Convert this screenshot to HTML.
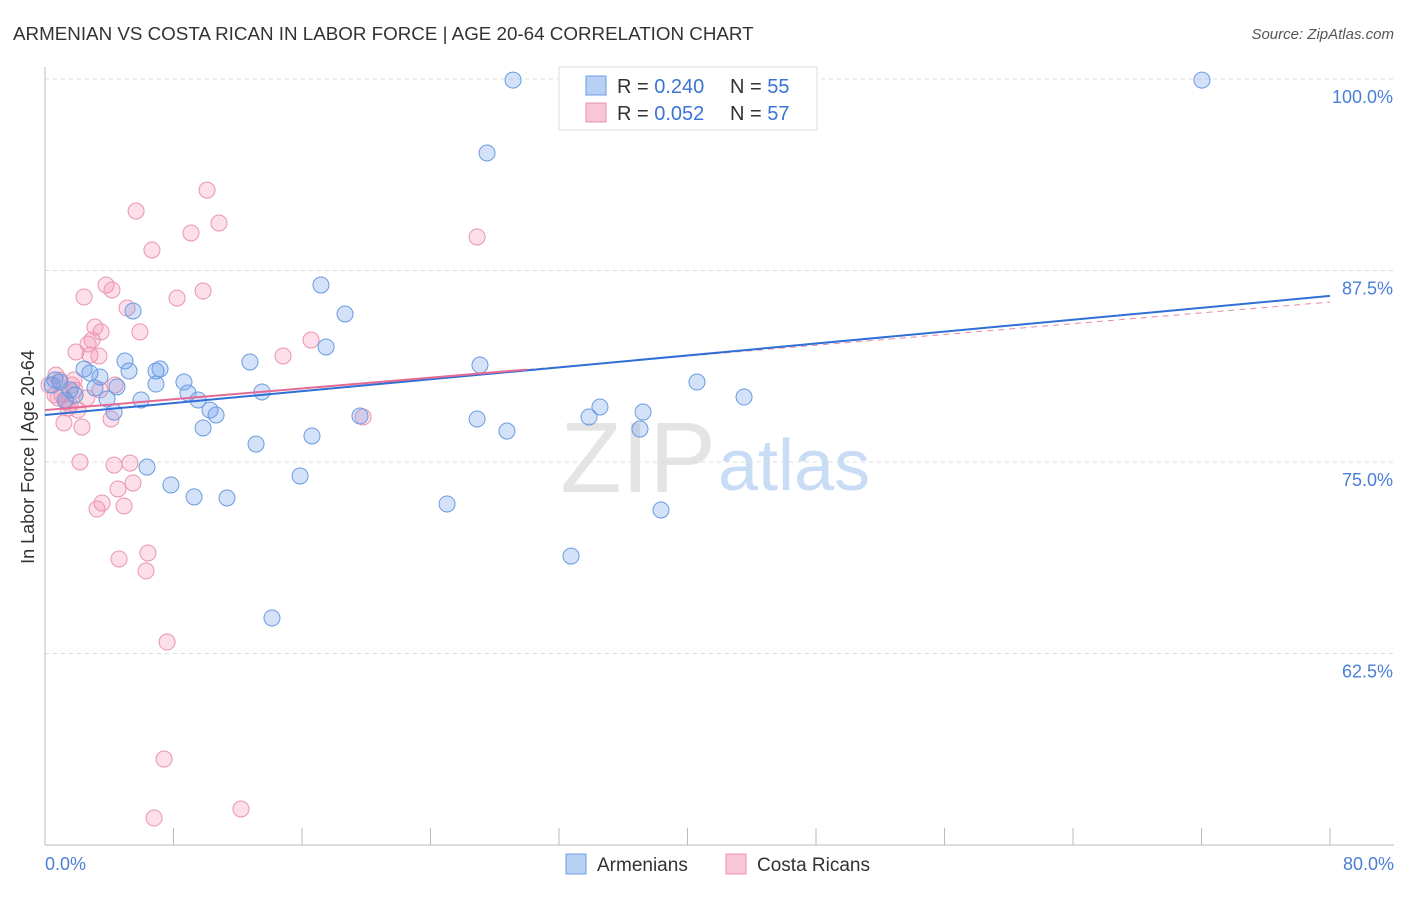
<!DOCTYPE html>
<html><head><meta charset="utf-8"><style>
body{margin:0;background:#fff;font-family:"Liberation Sans",sans-serif;}
svg text{font-family:"Liberation Sans",sans-serif;}
</style></head><body>
<svg width="1406" height="892" viewBox="0 0 1406 892" xmlns="http://www.w3.org/2000/svg">
<text x="13" y="40" font-size="18.8" fill="#333">ARMENIAN VS COSTA RICAN IN LABOR FORCE | AGE 20-64 CORRELATION CHART</text>
<text x="1394" y="39" font-size="15" fill="#555" font-style="italic" text-anchor="end">Source: ZipAtlas.com</text>
<text x="716" y="492" font-size="100" fill="#e4e4e4" text-anchor="end" font-family="Liberation Serif">ZIP</text>
<text x="718" y="490" font-size="72" fill="#c8dcf5">atlas</text>
<g id="grid"></g>
<g id="axes"></g>
<g id="marks"></g>
<text transform="translate(34,457) rotate(-90)" font-size="18" fill="#333" text-anchor="middle">In Labor Force | Age 20-64</text>
<g>
<rect x="559" y="67" width="258" height="63" fill="#fff" stroke="#ddd"/>
<rect x="586" y="76" width="20" height="19" fill="#b7d1f4" stroke="#6a9be0"/>
<rect x="586" y="103" width="20" height="19" fill="#f9c6d6" stroke="#e890b0"/>
<text x="617" y="93" font-size="20" fill="#333">R = <tspan fill="#3b74d4">0.240</tspan></text>
<text x="730" y="93" font-size="20" fill="#333">N = <tspan fill="#3b74d4">55</tspan></text>
<text x="617" y="120" font-size="20" fill="#333">R = <tspan fill="#3b74d4">0.052</tspan></text>
<text x="730" y="120" font-size="20" fill="#333">N = <tspan fill="#3b74d4">57</tspan></text>
</g>
<g>
<rect x="566" y="854" width="20" height="20" fill="#b7d1f4" stroke="#6a9be0"/>
<text x="597" y="871" font-size="19" fill="#333">Armenians</text>
<rect x="726" y="854" width="20" height="20" fill="#f9c6d6" stroke="#e890b0"/>
<text x="757" y="871" font-size="19" fill="#333">Costa Ricans</text>
</g>
</svg>
<script>
const blueX=[29.14,72.03,27.52,17.18,18.68,5.48,17.50,27.08,12.76,4.98,7.16,6.91,2.43,2.80,5.23,3.42,8.65,6.91,0.62,0.93,3.11,4.48,3.86,5.98,8.90,9.53,13.51,10.27,10.65,4.30,9.84,16.62,13.14,6.35,7.84,9.28,11.33,15.88,25.03,26.90,28.76,33.87,34.55,37.23,37.04,40.59,43.52,38.35,32.75,14.13,1.56,1.25,19.61,0.44,1.87];
const blueY=[99.93,99.93,95.17,86.55,84.66,84.86,82.51,81.33,81.53,81.59,81.07,80.94,81.07,80.81,80.94,80.55,80.22,80.09,80.35,80.22,79.83,79.90,79.11,79.05,79.50,79.05,79.57,78.39,78.07,78.26,77.22,76.70,76.17,74.67,73.50,72.72,72.65,74.09,72.26,77.81,77.02,77.94,78.59,78.26,77.15,80.22,79.24,71.87,68.86,64.82,79.70,79.05,78.00,80.03,79.37];
const pinkX=[0.68,0.93,0.25,1.06,1.56,1.87,1.68,1.18,2.30,1.43,2.18,3.24,3.55,4.54,4.30,5.29,5.48,4.92,4.61,6.41,6.29,7.60,7.41,6.79,12.20,5.67,6.66,10.09,10.83,9.09,8.22,9.84,3.80,4.17,2.43,5.11,5.91,3.11,3.49,2.93,1.93,2.68,3.36,2.80,14.82,16.56,19.80,26.90,4.11,4.36,2.61,3.42,1.81,0.81,1.31,2.05,0.62];
const pinkY=[80.68,80.35,80.03,79.37,78.72,79.70,80.03,77.55,77.28,78.52,75.00,71.93,72.32,73.24,74.80,74.93,73.63,72.13,68.67,69.06,67.89,63.25,55.61,51.76,52.35,91.38,88.84,92.75,90.60,89.95,85.70,86.16,86.55,86.23,85.77,85.05,83.49,83.81,83.49,82.96,82.18,82.70,81.92,81.98,81.92,82.96,77.94,89.69,77.81,80.03,79.18,79.70,80.35,79.18,78.92,78.39,79.37];
const yTicks=[100,87.5,75,62.5];
const yTickLabels=["100.0%","87.5%","75.0%","62.5%"];
const xTicks=[0,8,16,24,32,40,48,56,64,72,80];
const blueTrend=[78.07,85.84];
const pinkTrend=[78.39,85.44];
const pinkSolidEnd=30;
const NS="http://www.w3.org/2000/svg";
const sx=v=>45+v*(1285/80);
const sy=v=>79+(100-v)*(191.5/12.5);
function mk(tag,attrs,parent){const e=document.createElementNS(NS,tag);for(const k in attrs)e.setAttribute(k,attrs[k]);document.getElementById(parent).appendChild(e);return e;}
yTicks.forEach((t,i)=>{
 const l=mk('line',{x1:45,x2:1394,y1:sy(t),y2:sy(t),stroke:'#ddd','stroke-dasharray':'4,4'},'grid');
 
 
 const tx=mk('text',{x:1393,y:sy(t)+24,'font-size':18,fill:'#4a7fd8','text-anchor':'end'},'grid');
 tx.textContent=yTickLabels[i];
 
 
});
const ax=mk('line',{x1:45,x2:45,y1:67,y2:845,stroke:'#bbb'},'axes');


const bx=mk('line',{x1:45,x2:1394,y1:845,y2:845,stroke:'#bbb'},'axes');


xTicks.forEach(t=>{
 const l=mk('line',{x1:sx(t),x2:sx(t),y1:828,y2:845,stroke:'#bbb'},'axes');
 
 
});
const x0=mk('text',{x:45,y:870,'font-size':18,fill:'#4a7fd8'},'axes');x0.textContent='0.0%';


const x1=mk('text',{x:1394,y:870,'font-size':18,fill:'#4a7fd8','text-anchor':'end'},'axes');x1.textContent='80.0%';


pinkX.forEach((x,i)=>{
 const c=mk('circle',{cx:sx(x),cy:sy(pinkY[i]),r:8,fill:'rgba(244,150,180,0.3)',stroke:'#ea94b4','stroke-width':1},'marks');
 
 
});
blueX.forEach((x,i)=>{
 const c=mk('circle',{cx:sx(x),cy:sy(blueY[i]),r:8,fill:'rgba(110,160,235,0.3)',stroke:'#6a9be0','stroke-width':1},'marks');
 
 
});
const pyAt=x=>pinkTrend[0]+(pinkTrend[1]-pinkTrend[0])*x/80;
const pd=mk('line',{x1:sx(pinkSolidEnd),y1:sy(pyAt(pinkSolidEnd)),x2:sx(80),y2:sy(pinkTrend[1]),stroke:'#e88aa8','stroke-width':1,'stroke-dasharray':'6,5'},'marks');


const bt=mk('line',{x1:sx(0),y1:sy(blueTrend[0]),x2:sx(80),y2:sy(blueTrend[1]),stroke:'#2f6fd6','stroke-width':2},'marks');


const pt=mk('line',{x1:sx(0),y1:sy(pinkTrend[0]),x2:sx(pinkSolidEnd),y2:sy(pyAt(pinkSolidEnd)),stroke:'#e46a94','stroke-width':2},'marks');


</script>
</body></html>
